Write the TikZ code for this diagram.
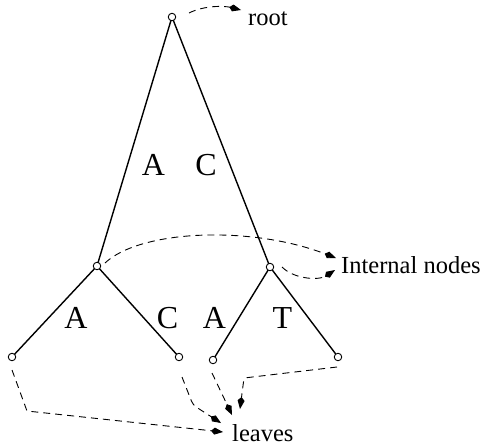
\documentclass[tikz,border=0pt]{standalone}
\usepackage{fontspec}
\setmainfont{Liberation Serif}
\usetikzlibrary{arrows.meta}
\begin{document}
\begin{tikzpicture}[x=1pt,y=-1pt,
  treenode/.style={circle,draw,line width=0.9pt,minimum size=7.5pt,inner sep=0pt,fill=white},
  edge/.style={line width=1.4pt},
  pointer/.style={dashed,line width=0.9pt,dash pattern=on 7pt off 5pt,
    -{Kite[length=12pt,width=7pt,inset=3.5pt]}},
  bigtxt/.style={inner sep=0pt,font=\fontsize{24.5}{28}\selectfont},
  lbl/.style={inner sep=0pt,anchor=base,font=\fontsize{32}{36}\selectfont}]
\useasboundingbox (0,0) rectangle (481,445);
% tree edges
\coordinate (rootc) at (172,17);
\coordinate (ilc) at (97,266);
\coordinate (irc) at (270,267);
\coordinate (llc) at (12,357);
\coordinate (lrc) at (179,357);
\coordinate (rlc) at (213,360);
\coordinate (rrc) at (338,357);
\draw[edge] (rootc) -- (ilc);
\draw[edge] (rootc) -- (irc);
\draw[edge] (ilc) -- (llc);
\draw[edge] (ilc) -- (lrc);
\draw[edge] (irc) -- (rlc);
\draw[edge] (irc) -- (rrc);
\node[treenode] (root) at (rootc) {};
\node[treenode] (il) at (ilc) {};
\node[treenode] (ir) at (irc) {};
\node[treenode] (ll) at (llc) {};
\node[treenode] (lr) at (lrc) {};
\node[treenode] (rl) at (rlc) {};
\node[treenode] (rr) at (rrc) {};
% edge labels
\node[lbl] (la1) at (153.5,175) {A};
\node[lbl] (lc1) at (206,175) {C};
\node[lbl] (la2) at (76,328) {A};
\node[lbl] (lc2) at (167.5,328) {C};
\node[lbl] (la3) at (214.5,328) {A};
\node[lbl] (lt3) at (282.5,328) {T};
% annotation texts
\node[bigtxt,anchor=base west] (troot) at (248,25) {root};
\node[bigtxt,anchor=base west] (tint) at (341,273) {Internal nodes};
\node[bigtxt,anchor=base west] (tleaves) at (232,441) {leaves};
% arrow ends and bends
\coordinate (rootS) at (189,13);
\coordinate (rootT) at (241,10);
\coordinate (ilS) at (105,263);
\coordinate (intT1) at (336,258);
\coordinate (irS) at (282,267);
\coordinate (intT2) at (335,270);
\coordinate (llS) at (12,370);
\coordinate (llB) at (27,411);
\coordinate (lvT1) at (223,432);
\coordinate (lrS) at (182,377);
\coordinate (lrB) at (193,405);
\coordinate (lvT2) at (221,423);
\coordinate (rlS) at (212,373);
\coordinate (lvT3) at (232,415);
\coordinate (rrS) at (337,367);
\coordinate (rrB) at (244,378);
\coordinate (lvT4) at (240,409);
% pointers
\draw[pointer] (rootS) .. controls (205,5) and (225,6) .. (rootT);
\draw[pointer] (ilS) .. controls (140,230) and (250,225) .. (intT1);
\draw[pointer] (irS) .. controls (295,280) and (320,280) .. (intT2);
\draw[pointer] (llS) -- (llB) -- (lvT1);
\draw[pointer,rounded corners=4pt] (lrS) -- (lrB) -- (lvT2);
\draw[pointer] (rlS) -- (lvT3);
\draw[pointer,rounded corners=3pt] (rrS) -- (rrB) -- (lvT4);
\end{tikzpicture}
\end{document}
